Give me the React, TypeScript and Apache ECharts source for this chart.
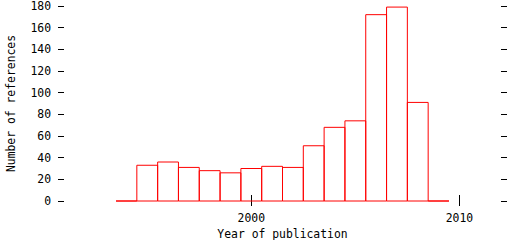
import React, { useEffect, useRef } from "react";
import * as echarts from "echarts";

const years = [1994, 1995, 1996, 1997, 1998, 1999, 2000, 2001, 2002, 2003, 2004, 2005, 2006, 2007, 2008, 2009];
const counts = [0, 33, 36, 31, 28, 26, 30, 32, 31, 51, 68, 74, 172, 179, 91, 0];
const xTicks = [2000, 2010];
const yTicks = [0, 20, 40, 60, 80, 100, 120, 140, 160, 180];

const FONT = "'DejaVu Sans Mono', monospace";

export default function App() {
  const ref = useRef<HTMLDivElement>(null);
  useEffect(() => {
    if (!ref.current) return;
    const chart = echarts.init(ref.current, null, { renderer: "svg" });
    const data = years.map((y, i) => [y, counts[i]]);
    chart.setOption({
      animation: false,
      backgroundColor: "#ffffff",
      grid: { left: 64, right: 11, top: 6, bottom: 39, containLabel: false, outerBoundsMode: "none" },
      xAxis: [
        {
          type: "value",
          min: 1991,
          max: 2012,
          position: "bottom",
          axisLine: { show: false },
          splitLine: { show: false },
          axisTick: { show: true, customValues: xTicks, length: 5, lineStyle: { color: "#000", width: 1 } },
          axisLabel: {
            show: true,
            customValues: xTicks,
            formatter: (v: number) => String(v),
            color: "#000",
            fontFamily: FONT,
            fontSize: 11.4,
            margin: 11,
          },
          name: "Year of publication",
          nameLocation: "middle",
          nameGap: 27,
          nameTextStyle: { color: "#000", fontFamily: FONT, fontSize: 11.4 },
        },
        {
          type: "value",
          min: 1991,
          max: 2012,
          position: "top",
          axisLine: { show: false },
          splitLine: { show: false },
          axisTick: { show: true, customValues: xTicks, length: 6, lineStyle: { color: "#000", width: 1 } },
          axisLabel: { show: false },
        },
      ],
      yAxis: [
        {
          type: "value",
          min: 0,
          max: 180,
          interval: 20,
          position: "left",
          axisLine: { show: false },
          splitLine: { show: false },
          axisTick: { show: true, length: 6, lineStyle: { color: "#000", width: 1 } },
          axisLabel: {
            customValues: yTicks,
            formatter: (v: number) => String(v),
            color: "#000",
            fontFamily: FONT,
            fontSize: 11.4,
            lineHeight: 10,
            margin: 13,
          },
          name: "Number of references",
          nameLocation: "middle",
          nameGap: 48,
          nameTextStyle: { color: "#000", fontFamily: FONT, fontSize: 11.4 },
        },
        {
          type: "value",
          min: 0,
          max: 180,
          interval: 20,
          position: "right",
          axisLine: { show: false },
          splitLine: { show: false },
          axisTick: { show: true, length: 6, lineStyle: { color: "#000", width: 1 } },
          axisLabel: { show: false },
        },
      ],
      series: [
        {
          type: "custom",
          xAxisIndex: 0,
          yAxisIndex: 0,
          data,
          renderItem: (params: any, api: any) => {
            const x = api.value(0);
            const v = api.value(1);
            const p0 = api.coord([x - 0.5, 0]);
            const p1 = api.coord([x + 0.5, v]);
            return {
              type: "rect",
              shape: {
                x: p0[0],
                y: p1[1],
                width: p1[0] - p0[0],
                height: p0[1] - p1[1],
              },
              style: { fill: "none", stroke: "#ff0000", lineWidth: 1 },
            };
          },
        },
      ],
    });
    return () => chart.dispose();
  }, []);
  return <div ref={ref} style={{ width: 512, height: 240, position: "absolute", left: 0, top: 0 }} />;
}
